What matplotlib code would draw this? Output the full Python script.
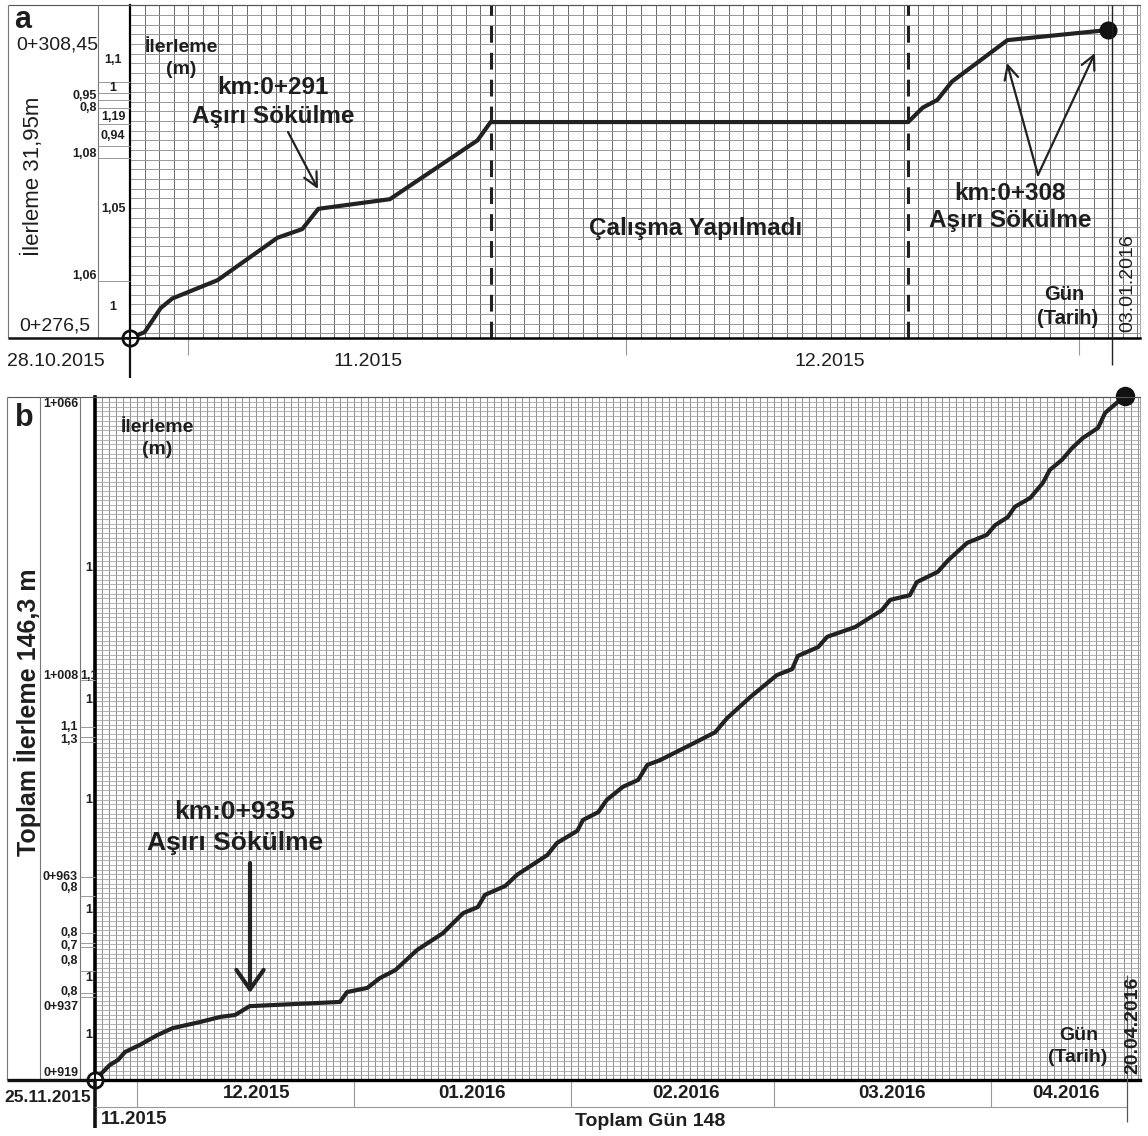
import numpy as np
import matplotlib.pyplot as plt

plt.rcParams['font.family'] = ['Liberation Sans', 'DejaVu Sans']
plt.rcParams['text.color'] = '#1e1e1e'

# ---- a: 28.10.2015 - 03.01.2016  (gün, km 0+xxx m)
a_gun = [0, 1.0, 2.1, 2.9, 6.0, 10.1, 11.8, 12.9, 17.8, 23.8, 24.7,
         53.3, 54.3, 55.3, 56.3, 60.1, 67.0]
a_km = [276.5, 277.1, 279.6, 280.6, 282.5, 286.9, 287.8, 289.9, 290.9, 297.0, 298.9,
        298.9, 300.4, 301.2, 303.1, 307.4, 308.45]
a_ay_gun = [4, 34, 65]          # 01.11, 01.12, 01.01
a_ay = ['11.2015', '12.2015']

# ---- b: 25.11.2015 - 20.04.2016
b_gun = [0, 2.1, 3.3, 4.3, 6.4, 8.9, 11.1, 15.0, 17.9, 20.0, 22.1, 35.0, 36.0, 38.9,
         40.7, 42.9, 46.0, 49.7, 52.6, 54.7, 55.7, 58.6, 60.3, 64.6, 66.0, 68.9, 69.7,
         71.9, 73.1, 75.4, 77.6, 78.9, 80.7, 86.4, 88.6, 90.3, 93.6, 97.4, 99.6, 100.4,
         103.3, 104.6, 108.6, 112.4, 113.6, 116.4, 117.4, 120.4, 121.9, 124.6, 127.4,
         128.6, 130.4, 131.4, 133.6, 135.4, 136.4, 138.1, 139.6, 141.1, 143.3, 144.3, 147.1]
b_km = [919.0, 922.2, 923.3, 925.0, 926.5, 928.6, 930.1, 931.4, 932.5, 932.9, 934.8,
        935.7, 937.8, 938.7, 940.8, 942.5, 946.8, 950.4, 954.7, 956.0, 958.6, 960.5,
        962.9, 967.1, 969.7, 972.3, 974.6, 976.3, 978.9, 981.7, 983.2, 986.4, 987.4,
        991.7, 993.4, 996.4, 1000.9, 1005.6, 1006.9, 1009.7, 1011.6, 1013.8, 1015.9,
        1019.5, 1021.7, 1022.7, 1025.5, 1027.7, 1030.2, 1033.9, 1035.6, 1037.7, 1039.4,
        1041.6, 1043.5, 1046.7, 1049.5, 1051.6, 1054.2, 1056.3, 1058.5, 1061.7, 1065.3]
b_ay_gun = [6, 37, 68, 97, 128]
b_ay = ['12.2015', '01.2016', '02.2016', '03.2016', '04.2016']

# side column labels (daily advance, chainage)
a_yan = ['1,1', '1', '0,95', '0,8', '1,19', '0,94', '1,08', '1,05', '1,06', '1']
a_yan_y = [60, 88, 96, 108, 117, 136, 154, 209, 276, 307]
a_yan_sol = [False, False, True, True, False, False, True, False, True, False]
a_cizgi = [82, 93, 100, 108, 124, 146, 158, 281]

b_yan = ['1+066', '1', '1+008', '1,1', '1', '1,1', '1,3', '1', '0+963', '0,8', '1',
         '0,8', '0,7', '0,8', '1', '0,8', '0+937', '1', '0+919']
b_yan_y = [404, 568, 676, 676, 700, 727, 740, 800, 877, 888, 910,
           933, 946, 961, 978, 992, 1007, 1035, 1073]
b_yan_sol = [True, False, True, False, False, True, True, False, True, True, False,
             True, True, True, False, True, True, False, True]
b_cizgi = [680, 727, 737, 742, 877, 896, 933, 943, 947, 971, 993, 997]

W, H = 1148, 1136
fig = plt.figure(figsize=(W / 100, H / 100), dpi=100)


def kagit(ax, ay_gun, tlen, cx, cy, lw):
    x1 = ax.get_xlim()[1]
    y0, y1 = ax.get_ylim()
    ax.set_xticks(ay_gun)
    ax.set_xticks(np.arange(0, x1, 1), minor=True)
    ax.set_yticks([])
    ax.set_yticks(np.arange(np.ceil(y0), y1, 1), minor=True)
    ax.grid(which='both', axis='x', color=cx, lw=lw)
    ax.grid(which='minor', axis='y', color=cy, lw=lw)
    ax.tick_params(which='minor', length=0)
    ax.tick_params(which='major', axis='x', direction='out', length=tlen,
                   color='#999999', width=0.8, labelbottom=False)
    ax.set_axisbelow(True)
    ax.spines['top'].set_color('#555555')
    ax.spines['top'].set_linewidth(0.8)
    ax.spines['right'].set_color('#999999')
    ax.spines['right'].set_linewidth(0.6)


# panel a
axa = fig.add_axes([130 / W, 1 - 338 / H, 1010 / W, 333 / H])
axa.set_xlim(0, 1010 / 14.6)
axa.set_ylim(276.5, 276.5 + 333 / 9.64)
kagit(axa, a_ay_gun, 12, '#6a6a6a', '#9a9a9a', 0.7)
axa.spines['left'].set_linewidth(1.6)
axa.spines['bottom'].set_linewidth(1.8)
axa.plot(a_gun, a_km, color='#222222', lw=3, solid_joinstyle='round', zorder=3, clip_on=False)
for g in (a_gun[10], a_gun[11]):
    axa.axvline(g, color='#222222', lw=2.2, ls=(0, (5.5, 3.3)), zorder=3)
axa.plot(a_gun[0], a_km[0], 'o', ms=11, mfc='white', mec='#111111', mew=2, clip_on=False, zorder=4)
axa.plot(a_gun[0], a_km[0], '+', ms=11, mec='#111111', mew=1.5, clip_on=False, zorder=5)
axa.plot(a_gun[-1], a_km[-1], 'o', ms=12, color='#111111', clip_on=False, zorder=4)

# panel b
axb = fig.add_axes([95 / W, 1 - 1080 / H, 1045 / W, 683 / H])
axb.set_xlim(0, 1045 / 7.0)
axb.set_ylim(919, 919 + 683 / 4.675)
kagit(axb, b_ay_gun, 19.4, '#7c7c7c', '#a6a6a6', 0.6)
axb.spines['left'].set_linewidth(2.6)
axb.spines['bottom'].set_linewidth(2.4)
axb.plot(b_gun, b_km, color='#222222', lw=3, solid_joinstyle='round', zorder=3, clip_on=False)
axb.plot(b_gun[0], b_km[0], 'o', ms=11, mfc='white', mec='#111111', mew=2, clip_on=False, zorder=4)
axb.plot(b_gun[0], b_km[0], '+', ms=11, mec='#111111', mew=1.5, clip_on=False, zorder=5)
axb.plot(b_gun[-1], b_km[-1], 'o', ms=13, color='#111111', clip_on=False, zorder=4)

# overlay in pixel units for frames and lettering
ov = fig.add_axes([0, 0, 1, 1], zorder=5)
ov.set_xlim(0, W)
ov.set_ylim(H, 0)
ov.axis('off')
ov.patch.set_visible(False)


def cizgi(x, y, c='#777777', lw=0.8):
    ov.plot(x, y, color=c, lw=lw, clip_on=False, solid_capstyle='butt')


# frames a
cizgi([8, 1140], [5, 5], '#555555')
cizgi([8, 8], [5, 338])
cizgi([98, 98], [5, 338])
cizgi([8, 130], [338, 338], '#111111', 1.8)
cizgi([130, 130], [338, 378], '#111111', 1.6)
cizgi([1112, 1112], [5, 365], '#222222', 1.0)
for y in a_cizgi:
    cizgi([98, 130], [y, y], '#999999', 0.7)

# frames b
cizgi([7, 1140], [397, 397], '#555555')
cizgi([7, 7], [397, 1080])
cizgi([40, 40], [397, 1080])
cizgi([80, 80], [397, 1080])
cizgi([7, 95], [1080, 1080], '#111111', 2.4)
cizgi([95, 95], [1080, 1128], '#111111', 2.6)
cizgi([95, 1127], [1107, 1107], '#999999', 0.8)
cizgi([1127, 1127], [975, 1122], '#555555', 0.9)
for y in b_cizgi:
    cizgi([80, 95], [y, y], '#999999', 0.7)

kw_b = dict(ha='center', va='center', fontweight='bold')

# texts a
ov.text(23, 20, 'a', fontsize=22, **kw_b)
ov.text(57, 45, '0+308,45', fontsize=14, ha='center', va='center')
ov.text(55, 326, '0+276,5', fontsize=14, ha='center', va='center')
ov.text(33, 176, 'İlerleme 31,95m', fontsize=16, rotation=90, ha='center', va='center')
ov.text(56, 361, '28.10.2015', fontsize=14, ha='center', va='center')
ov.text(368, 361, a_ay[0], fontsize=14, ha='center', va='center')
ov.text(830, 361, a_ay[1], fontsize=14, ha='center', va='center')
ov.text(1128, 283, '03.01.2016', fontsize=14, rotation=90, ha='center', va='center')
for s, y, sol in zip(a_yan, a_yan_y, a_yan_sol):
    if sol:
        ov.text(97, y, s, fontsize=9, fontweight='bold', ha='right', va='center')
    else:
        ov.text(113, y, s, fontsize=9, **kw_b)
ov.text(181, 48, 'İlerleme', fontsize=14, **kw_b)
ov.text(181, 70, '(m)', fontsize=14, **kw_b)
ov.text(273, 88, 'km:0+291', fontsize=17.5, **kw_b)
ov.text(273, 116, 'Aşırı Sökülme', fontsize=17.5, **kw_b)
ov.text(696, 229, 'Çalışma Yapılmadı', fontsize=17.5, **kw_b)
ov.text(1010, 193, 'km:0+308', fontsize=17.5, **kw_b)
ov.text(1010, 220, 'Aşırı Sökülme', fontsize=17.5, **kw_b)
ov.text(1064, 295, 'Gün', fontsize=14.5, **kw_b)
ov.text(1068, 318, '(Tarih)', fontsize=14.5, **kw_b)

ok_a = dict(arrowstyle='->,head_length=0.5,head_width=0.25', lw=1.6, color='#222222',
            mutation_scale=20, shrinkA=0, shrinkB=0)
ov.annotate('', xy=(318, 189), xytext=(288, 132), arrowprops=ok_a)
ov.annotate('', xy=(1007, 63), xytext=(1038, 175), arrowprops=ok_a)
ov.annotate('', xy=(1095, 53), xytext=(1038, 175), arrowprops=ok_a)

# texts b
ov.text(24, 418, 'b', fontsize=22, **kw_b)
for s, y, sol in zip(b_yan, b_yan_y, b_yan_sol):
    if sol:
        ov.text(78, y, s, fontsize=9, fontweight='bold', ha='right', va='center')
    else:
        ov.text(89, y, s, fontsize=9, **kw_b)
ov.text(28, 712, 'Toplam İlerleme 146,3 m', fontsize=18, rotation=90, **kw_b)
ov.text(157, 427, 'İlerleme', fontsize=14, **kw_b)
ov.text(157, 450, '(m)', fontsize=14, **kw_b)
ov.text(235, 812, 'km:0+935', fontsize=19, **kw_b)
ov.text(235, 843, 'Aşırı Sökülme', fontsize=19, **kw_b)
ov.annotate('', xy=(250, 993), xytext=(250, 863),
            arrowprops=dict(arrowstyle='->,head_length=0.5,head_width=0.35', lw=3,
                            color='#222222', mutation_scale=28, shrinkA=0, shrinkB=0))
ov.text(48, 1098, '25.11.2015', fontsize=12.5, **kw_b)
ov.text(134, 1120, '11.2015', fontsize=13.5, **kw_b)
for s, x in zip(b_ay, [257, 472, 686, 892, 1066]):
    ov.text(x, 1094, s, fontsize=13.5, **kw_b)
ov.text(650, 1122, 'Toplam Gün 148', fontsize=14, **kw_b)
ov.text(1079, 1035, 'Gün', fontsize=14, **kw_b)
ov.text(1078, 1057, '(Tarih)', fontsize=14, **kw_b)
ov.text(1133, 1025, '20.04.2016', fontsize=14, rotation=90, **kw_b)

fig.savefig('out.png', dpi=100)
